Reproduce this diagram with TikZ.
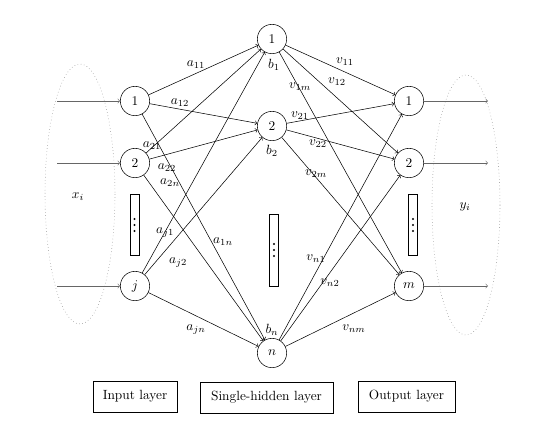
\documentclass[tikz,border=0pt]{standalone}
\usepackage{amsmath}
\usetikzlibrary{arrows}
\tikzset{neuron/.style={draw, circle, minimum size=22pt, inner sep=0pt},
  dotsbox/.style={draw, rectangle, minimum width=7pt, inner sep=0pt},
  layerbox/.style={draw, rectangle, minimum height=23pt, inner sep=0pt},
  wlabel/.style={inner sep=0.5pt},
  feed/.style={->, black!60}}
\begin{document}
\begin{tikzpicture}[x=0.75pt,y=-0.75pt]
\useasboundingbox (0,0) rectangle (553,436);

%%Input layer
\node[neuron] (i1) at (135,101) {1};
\node[neuron] (i2) at (135,163) {2};
\node[neuron] (ij) at (135,286) {$j$};
\node[dotsbox, minimum height=46pt] (idots) at (134.5,225) {};

%%Hidden layer
\node[neuron] (h1) at (272,39) {1};
\node[neuron] (h2) at (272,126) {2};
\node[neuron] (hn) at (272,353) {$n$};
\node[dotsbox, minimum height=54pt] (hdots) at (274,250) {};

%%Output layer
\node[neuron] (o1) at (409,101) {1};
\node[neuron] (o2) at (409,163) {2};
\node[neuron] (om) at (409,286) {$m$};
\node[dotsbox, minimum height=46pt] (odots) at (413,225) {};

%%Dots inside the boxes
\foreach \b in {idots,hdots,odots}{
\foreach \d in {-1,0,1}{
\fill (\b.center) ++(0,6*\d) circle [radius=0.8pt];
}}

%%Data sets
\draw[dotted, black!50] (80,194) ellipse [x radius=35, y radius=130];
\draw[dotted, black!50] (466,205) ellipse [x radius=34, y radius=130];
\node (xi) at (78,197) {$x_i$};
\node (yi) at (465,207) {$y_i$};

\coordinate (x1) at (57,101);
\coordinate (x2) at (57,163);
\coordinate (xj) at (57,286);
\coordinate (y1) at (488,101);
\coordinate (y2) at (488,163);
\coordinate (ym) at (488,286);
\foreach \k in {1,2,j}{
\draw[feed] (x\k) -- (i\k);
}
\foreach \k in {1,2,m}{
\draw[feed] (o\k) -- (y\k);
}

%%Weights
\foreach \i in {1,2,j}{
\foreach \h in {1,2,n}{
\draw[->] (i\i) -- (h\h);
}}
\foreach \h in {1,2,n}{
\foreach \o in {1,2,m}{
\draw[->] (h\h) -- (o\o);
}}

\foreach \nm/\x/\y/\txt in {la11/196/65/a_{11}, la12/180/103/a_{12}, la21/152/146/a_{21},
  la22/167/168/a_{22}, la2n/170/183/a_{2n}, laj1/165/233/a_{j1}, laj2/178/263/a_{j2},
  la1n/223/242/a_{1n}, lajn/196/330/a_{jn},
  lb1/274/65/b_1, lb2/272/151/b_2, lbn/272/330/b_n,
  lv11/345/62/v_{11}, lv12/337/82/v_{12}, lv1m/300/87/v_{1m}, lv21/300/116/v_{21},
  lv22/318/144/v_{22}, lv2m/316/174/v_{2m}, lvn1/316/259/v_{n1}, lvn2/330/283/v_{n2},
  lvnm/354/329/v_{nm}}{
\node[wlabel] (\nm) at (\x,\y) {$\txt$};
}

%%Layer names
\node[layerbox, minimum width=63pt] (inlayer) at (135,396.5) {Input layer};
\node[layerbox, minimum width=100pt] (hidlayer) at (266.5,397.5) {Single-hidden layer};
\node[layerbox, minimum width=73pt] (outlayer) at (406.5,396.5) {Output layer};

\end{tikzpicture}
\end{document}
